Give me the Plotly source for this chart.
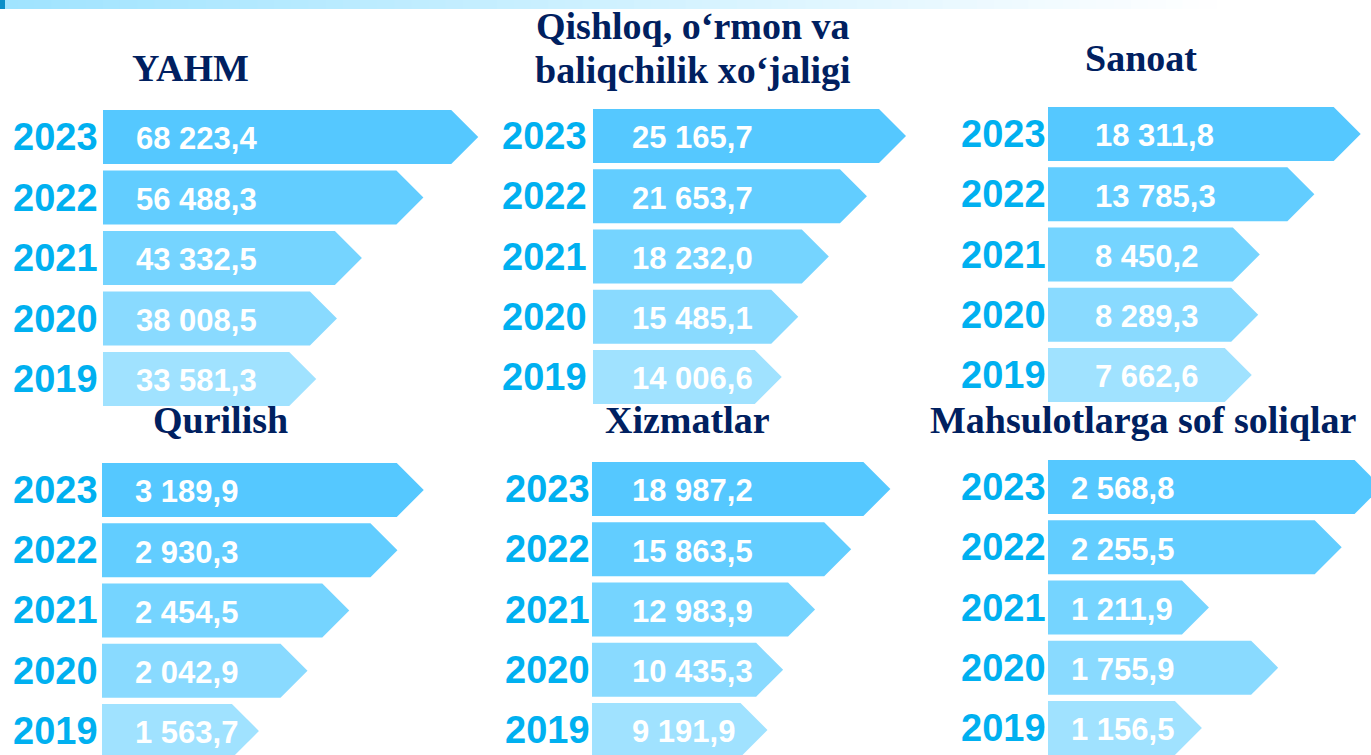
import plotly.graph_objects as go

# ---------------- data ----------------
years = [2023, 2022, 2021, 2020, 2019]
panel_titles = ["YAHM", "Qishloq, o‘rmon va|baliqchilik xo‘jaligi", "Sanoat",
                "Qurilish", "Xizmatlar", "Mahsulotlarga sof soliqlar"]
yahm = [68223.4, 56488.3, 43332.5, 38008.5, 33581.3]
qishloq = [25165.7, 21653.7, 18232.0, 15485.1, 14006.6]
sanoat = [18311.8, 13785.3, 8450.2, 8289.3, 7662.6]
qurilish = [3189.9, 2930.3, 2454.5, 2042.9, 1563.7]
xizmatlar = [18987.2, 15863.5, 12983.9, 10435.3, 9191.9]
soliqlar = [2568.8, 2255.5, 1211.9, 1755.9, 1156.5]
series = [yahm, qishloq, sanoat, qurilish, xizmatlar, soliqlar]

# ---------------- layout (pixels) ----------------
W, H = 1371, 755
panels = [
    dict(L=103, R=480, xr=(-6243, 74365), c0=137, pitch=60.5, yx=11, vx=134, tx=191, ty=[68]),
    dict(L=593, R=930, xr=(-521, 29744), c0=136, pitch=60.25, yx=500, vx=630, tx=693, ty=[26, 70]),
    dict(L=1048, R=1371, xr=(-9622, 21961), c0=134, pitch=60.25, yx=959, vx=1093, tx=1141, ty=[58]),
    dict(L=102, R=480, xr=(282, 4011), c0=490, pitch=60.25, yx=11, vx=133, tx=220, ty=[420]),
    dict(L=592, R=930, xr=(-2647, 24298), c0=489, pitch=60.25, yx=503, vx=630, tx=687, ty=[420]),
    dict(L=1048, R=1371, xr=(159, 2698), c0=487, pitch=60.25, yx=959, vx=1069, tx=1143, ty=[420]),
]
bar_colors = ["#55C8FF", "#62CDFF", "#75D4FF", "#89DAFF", "#A0E2FF"]
year_color = "#00B0F0"
title_color = "#002060"
sans = "Liberation Sans, Arial, Roboto, sans-serif"
serif = "Liberation Serif, Times New Roman, serif"
HEAD_PX = 27
HALF_PX = 27


def px_x(x):
    return x / W


def px_y(y):
    return 1 - y / H


def fmt(v):
    return f"{v:,.1f}".replace(",", " ").replace(".", ",")


fig = go.Figure()
annotations = []
shapes = []
layout_axes = {}

for i, (p, vals) in enumerate(zip(panels, series), start=1):
    xa = "x" if i == 1 else f"x{i}"
    ya = "y" if i == 1 else f"y{i}"
    top = p["c0"] - p["pitch"] / 2
    bottom = min(H, p["c0"] + 4.5 * p["pitch"])
    y_hi = years[0] + 0.5
    y_lo = y_hi - (bottom - top) / p["pitch"]
    lo, hi = p["xr"]
    right = min(W, p["R"])
    units_per_px = (hi - lo) / (p["R"] - p["L"])
    head = HEAD_PX * units_per_px
    half = HALF_PX / p["pitch"]
    xr_hi = lo + (right - p["L"]) * units_per_px

    layout_axes["xaxis" if i == 1 else f"xaxis{i}"] = dict(
        domain=[px_x(p["L"]), px_x(right)], range=[lo, xr_hi], visible=False,
        fixedrange=True, anchor=ya)
    layout_axes["yaxis" if i == 1 else f"yaxis{i}"] = dict(
        domain=[px_y(bottom), px_y(top)], range=[y_lo, y_hi], visible=False,
        fixedrange=True, anchor=xa)

    for j, (yr, v) in enumerate(zip(years, vals)):
        fig.add_trace(go.Scatter(
            x=[lo, v, v + head, v, lo, lo],
            y=[yr - half, yr - half, yr, yr + half, yr + half, yr - half],
            fill="toself", fillcolor=bar_colors[j], mode="lines",
            line=dict(width=0, color=bar_colors[j]), hoverinfo="skip",
            showlegend=False, xaxis=xa, yaxis=ya))
        annotations.append(dict(
            x=px_x(p["yx"]), xref="paper", xanchor="left", y=yr, yref=ya, yanchor="middle",
            text=f"<b>{yr}</b>", showarrow=False,
            font=dict(family=sans, size=38, color=year_color)))
        annotations.append(dict(
            x=px_x(p["vx"]), xref="paper", xanchor="left", y=yr - 0.03, yref=ya, yanchor="middle",
            text=f"<b>{fmt(v)}</b>", showarrow=False,
            font=dict(family=sans, size=31, color="white")))

    for line, ty in zip(panel_titles[i - 1].split("|"), p["ty"]):
        annotations.append(dict(
            x=px_x(p["tx"]), xref="paper", xanchor="center", y=px_y(ty), yref="paper",
            yanchor="middle", text=f"<b>{line}</b>", showarrow=False,
            font=dict(family=serif, size=38, color=title_color)))

# top banner (gradient light blue -> white)
n = 80
for k in range(n):
    t = k / (n - 1)
    f = min(1.0, t * 1371 / 1220)
    r = int(160 + (255 - 160) * f)
    g = int(228 + (255 - 228) * f)
    shapes.append(dict(type="rect", xref="paper", yref="paper",
                       x0=k / n, x1=(k + 1) / n + 0.001, y0=px_y(9), y1=1,
                       fillcolor=f"rgb({r},{g},255)", line=dict(width=0), layer="below"))
shapes.append(dict(type="rect", xref="paper", yref="paper", x0=0, x1=px_x(5),
                   y0=px_y(9), y1=1, fillcolor="#0A8FC8", line=dict(width=0)))

fig.update_layout(
    width=W, height=H, autosize=False,
    margin=dict(l=0, r=0, t=0, b=0),
    paper_bgcolor="white", plot_bgcolor="rgba(0,0,0,0)",
    annotations=annotations, shapes=shapes, showlegend=False,
    **layout_axes)

fig.write_html("out.html", config={"displayModeBar": False},
               post_script="document.body.style.margin='0';document.body.style.overflow='hidden';")
